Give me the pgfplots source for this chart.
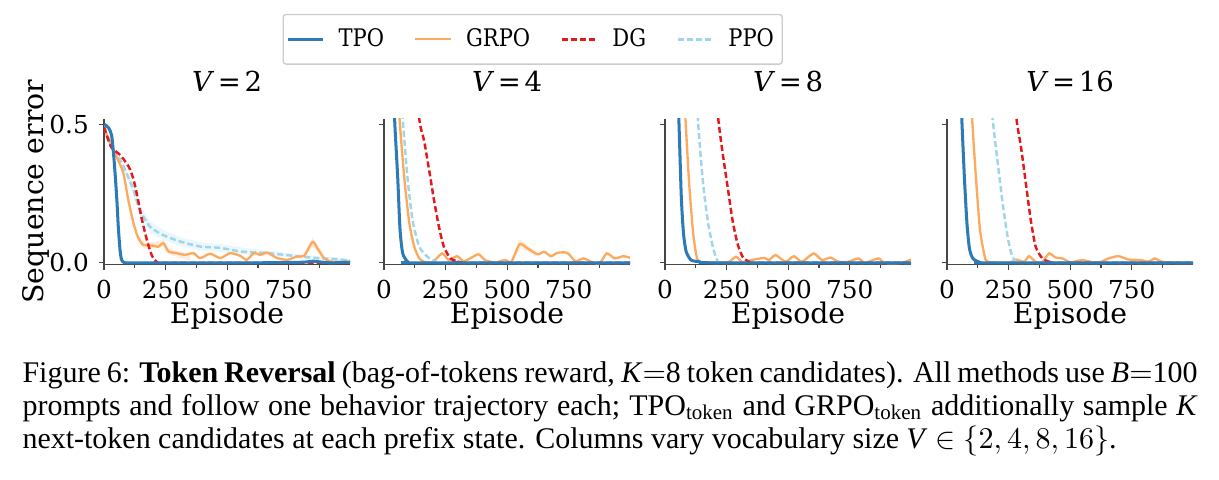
\documentclass[border=0pt]{standalone}
\usepackage{graphicx}
\usepackage{fontspec}
\setmainfont{Liberation Serif}
\newfontfamily\dvs{DejaVu Serif}
\usepackage{pgfplots}
\pgfplotsset{compat=1.18}
\definecolor{tpoc}{RGB}{44,123,182}
\definecolor{grpoc}{RGB}{253,170,95}
\definecolor{dgc}{RGB}{227,26,28}
\definecolor{ppoc}{RGB}{160,214,234}
\definecolor{spine}{RGB}{70,70,70}
\tikzset{
  tpo/.style={tpoc, line width=1.1pt},
  grpo/.style={grpoc, line width=0.85pt},
  dg/.style={dgc, line width=0.9pt, dash pattern=on 2.2pt off 1.1pt},
  ppo/.style={ppoc, line width=0.9pt, dash pattern=on 2.2pt off 1.1pt},
  band/.style={fill=#1, fill opacity=0.2, draw=none},
}
\pgfplotsset{
  panel/.style={
    scale only axis, width=89.5pt, height=53pt,
    xmin=0, xmax=999, ymin=-0.006, ymax=0.52,
    axis lines=left, axis line style={-, spine, line width=0.45pt},
    every tick/.style={spine, line width=0.45pt},
    tick align=outside, major tick length=2pt, minor tick length=1.2pt,
    xtick={0,250,500,750},
    minor xtick={125,375,625,875},
    ytick={0,0.5},
    xticklabel={\dvs\fontsize{9}{10}\selectfont\pgfmathprintnumber[assume math mode=true]{\tick}},
    yticklabels={},
    xticklabel style={anchor=base, yshift=-10.5pt},
    xlabel={Episode},
    xlabel style={font=\dvs\fontsize{10.3}{12}\selectfont, at={(axis description cs:0.5,0)}, anchor=base, yshift=-21.5pt},
    title style={font=\dvs\fontsize{10}{12}\selectfont, at={(axis description cs:0.5,1)}, anchor=base, yshift=4pt},
    clip=true,
  },
}
\newcommand{\ttl}[1]{\textit{V}\hspace{1.3pt}=\hspace{1.3pt}#1}
\begin{document}
\begin{tikzpicture}
\useasboundingbox (0,0) rectangle (443.27pt,174.18pt);
% ---------- Panel 1 ----------
\begin{axis}[panel, at={(37.82pt,78pt)}, anchor=south west,
  title={\ttl{2}},
  yticklabel={\dvs\fontsize{9}{10}\selectfont\pgfmathprintnumber[fixed, fixed zerofill, precision=1, assume math mode=true]{\tick}},
  ylabel={Sequence error},
  ylabel style={font=\dvs\fontsize{10.3}{12}\selectfont, at={(axis description cs:-0.245,0.5)}, anchor=base},
  legend columns=4,
  legend style={at={(1.742,1.545)}, anchor=center, draw=black!20, line width=0.5pt,
    rounded corners=1pt, font=\dvs\fontsize{8.8}{10}\selectfont,
    inner xsep=1pt, inner ysep=3pt,
    /tikz/every odd column/.append style={column sep=3pt},
    /tikz/every even column/.append style={column sep=9pt}},
  legend image code/.code={\draw[#1] (0pt,0pt) -- (13pt,0pt);},
  legend entries={\scalebox{0.87}[1]{TPO},\scalebox{0.87}[1]{GRPO},\scalebox{0.87}[1]{DG},\scalebox{0.87}[1]{PPO}},
]
\addlegendimage{tpo}
\addlegendimage{grpo}
\addlegendimage{dg}
\addlegendimage{ppo}
\addplot[band=ppoc, forget plot] coordinates {(78,0.36)(119,0.285)(146,0.21)(187,0.15)(241,0.118)(309,0.093)(390,0.074)(472,0.068)(554,0.056)(662,0.045)(730,0.037)(798,0.03)(866,0.024)(934,0.02)(999,0.014)(999,0.003)(934,0.008)(866,0.01)(798,0.016)(730,0.021)(662,0.025)(554,0.028)(472,0.04)(390,0.044)(309,0.061)(241,0.082)(187,0.11)(146,0.17)(119,0.245)(78,0.34)} -- cycle;
\addplot[band=grpoc, forget plot] coordinates {(119,0.155)(139,0.1)(160,0.077)(200,0.074)(241,0.084)(262,0.053)(309,0.04)(350,0.028)(350,0.008)(309,0.018)(262,0.03)(241,0.058)(200,0.05)(160,0.053)(139,0.08)(119,0.135)} -- cycle;
\addplot[band=grpoc, forget plot] coordinates {(815,0.03)(846,0.092)(866,0.066)(893,0.026)(893,0.01)(866,0.04)(846,0.058)(815,0.018)} -- cycle;
\addplot[ppo, smooth, tension=0.4, forget plot] coordinates {(0,0.5)(15,0.45)(37,0.41)(64,0.375)(78,0.35)(98,0.31)(119,0.265)(146,0.19)(187,0.13)(241,0.10)(309,0.077)(390,0.059)(472,0.054)(554,0.041)(662,0.035)(730,0.029)(798,0.023)(866,0.017)(934,0.014)(999,0.008)};
\addplot[grpo, smooth, tension=0.4, forget plot] coordinates {(0,0.49)(12,0.46)(24,0.44)(52,0.38)(78,0.326)(98,0.23)(119,0.145)(139,0.09)(160,0.065)(200,0.062)(220,0.058)(241,0.071)(262,0.041)(295,0.035)(329,0.029)(363,0.035)(390,0.017)(431,0.033)(472,0.017)(512,0.035)(553,0.025)(580,0.011)(608,0.035)(635,0.029)(662,0.037)(703,0.017)(744,0.011)(784,0.023)(812,0.025)(846,0.075)(866,0.053)(893,0.017)(920,0.005)(960,0.004)(999,0.005)};
\addplot[dg, smooth, tension=0.4, forget plot] coordinates {(0,0.49)(15,0.45)(31,0.415)(65,0.39)(91,0.36)(106,0.337)(120,0.30)(133,0.25)(154,0.156)(174,0.083)(194,0.027)(215,0.003)(240,0)(999,0)};
\addplot[tpo, smooth, tension=0.4, forget plot] coordinates {(0,0.5)(10,0.495)(20,0.485)(31,0.46)(40,0.38)(46,0.31)(52,0.23)(58,0.13)(65,0.047)(71,0.012)(80,0.002)(100,0)(300,0)(600,0)(800,0.002)(850,0.006)(880,0.003)(920,0)(999,0.002)};
\end{axis}
% ---------- Panel 2 ----------
\begin{axis}[panel, at={(139.64pt,78pt)}, anchor=south west,
  title={\ttl{4}}]
\addplot[band=grpoc] coordinates {(525,0.015)(550,0.085)(583,0.064)(615,0.042)(615,0.022)(583,0.042)(550,0.052)(525,0.004)} -- cycle;
\addplot[grpo, smooth, tension=0.4] coordinates {(0,0.98)(30,0.95)(50,0.75)(63,0.52)(83,0.30)(103,0.142)(123,0.058)(143,0.016)(163,0.004)(196,0.002)(236,0.034)(263,0.01)(296,0.024)(323,0.006)(350,0.016)(383,0.031)(410,0.01)(450,0.001)(490,0.01)(517,0.004)(550,0.067)(583,0.052)(623,0.031)(650,0.04)(677,0.024)(703,0.036)(744,0.036)(777,0.006)(810,0.016)(850,0)(877,0)(904,0.034)(937,0.016)(971,0.024)(999,0.018)};
\addplot[ppo, smooth, tension=0.4] coordinates {(0,0.98)(40,0.95)(60,0.75)(76,0.52)(96,0.30)(116,0.154)(143,0.058)(176,0.022)(210,0.004)(240,0)(999,0)};
\addplot[dg, smooth, tension=0.4] coordinates {(0,0.99)(80,0.97)(115,0.8)(143,0.52)(163,0.44)(183,0.335)(203,0.226)(223,0.13)(243,0.058)(270,0.016)(303,0.004)(330,0)(999,0)};
\addplot[tpo, smooth, tension=0.4] coordinates {(0,0.97)(20,0.93)(35,0.75)(43,0.52)(50,0.40)(56,0.30)(65,0.12)(76,0.034)(96,0.004)(120,0)(999,0)};
\end{axis}
% ---------- Panel 3 ----------
\begin{axis}[panel, at={(241.82pt,78pt)}, anchor=south west,
  title={\ttl{8}}]
\addplot[grpo, smooth, tension=0.4] coordinates {(0,0.99)(50,0.95)(70,0.75)(83,0.52)(97,0.30)(113,0.118)(126,0.034)(140,0.004)(220,0.002)(260,0.004)(288,0.022)(314,0.002)(341,0.008)(402,0.018)(422,0.01)(449,0.028)(489,0.004)(523,0.024)(556,0.004)(603,0.034)(637,0.01)(671,0.019)(704,0.004)(745,0.004)(785,0.016)(812,0)(866,0.016)(892,0)(960,0)(999,0.012)};
\addplot[ppo, smooth, tension=0.4] coordinates {(0,0.99)(90,0.97)(115,0.75)(133,0.52)(153,0.30)(173,0.154)(194,0.058)(214,0.004)(240,0)(999,0)};
\addplot[dg, smooth, tension=0.4] coordinates {(0,0.99)(150,0.97)(190,0.75)(216,0.52)(234,0.395)(254,0.275)(274,0.154)(294,0.07)(315,0.022)(341,0.004)(370,0)(999,0)};
\addplot[tpo, smooth, tension=0.4] coordinates {(0,0.99)(30,0.95)(45,0.75)(56,0.52)(66,0.24)(75,0.106)(86,0.04)(106,0.01)(140,0.004)(207,0)(999,0)};
\end{axis}
% ---------- Panel 4 ----------
\begin{axis}[panel, at={(344.36pt,78pt)}, anchor=south west,
  title={\ttl{16}}]
\addplot[grpo, smooth, tension=0.4] coordinates {(0,0.99)(70,0.96)(90,0.75)(102,0.52)(118,0.30)(134,0.118)(152,0.028)(165,0.004)(253,0.001)(280,0.012)(313,0.004)(333,0.024)(360,0.003)(387,0.003)(414,0.034)(441,0.019)(468,0.016)(501,0.002)(548,0.01)(589,0.002)(616,0)(656,0.016)(696,0.024)(737,0.012)(790,0.01)(817,0.004)(844,0.016)(871,0.004)(938,0)(999,0)};
\addplot[ppo, smooth, tension=0.4] coordinates {(0,0.99)(130,0.97)(165,0.75)(185,0.52)(206,0.36)(226,0.214)(246,0.094)(263,0.028)(280,0.004)(300,0)(999,0)};
\addplot[dg, smooth, tension=0.4] coordinates {(0,0.99)(220,0.97)(260,0.75)(282,0.52)(300,0.42)(320,0.287)(340,0.154)(360,0.058)(387,0.016)(414,0.004)(440,0)(999,0)};
\addplot[tpo, smooth, tension=0.4] coordinates {(0,0.99)(35,0.95)(50,0.75)(60,0.52)(71,0.30)(81,0.142)(91,0.052)(105,0.016)(132,0.002)(160,0)(999,0)};
\end{axis}
% ---------- Caption ----------
\node[anchor=base west, inner sep=0pt] at (8.0pt,35.27pt) {\parbox[t]{427.3pt}{\fontsize{10.9}{12.1}\selectfont
Figure 6: \textbf{Token Reversal} (bag-of-tokens reward, \textit{K}$=$8 token candidates). All methods use \textit{B}$=$100\linebreak
prompts and follow one behavior trajectory each; TPO\textsubscript{token} and GRPO\textsubscript{token} additionally sample \textit{K}\linebreak
next-token candidates at each prefix state. Columns vary vocabulary size \textit{V} $\in\{2,4,8,16\}$.}};
\end{tikzpicture}
\end{document}
